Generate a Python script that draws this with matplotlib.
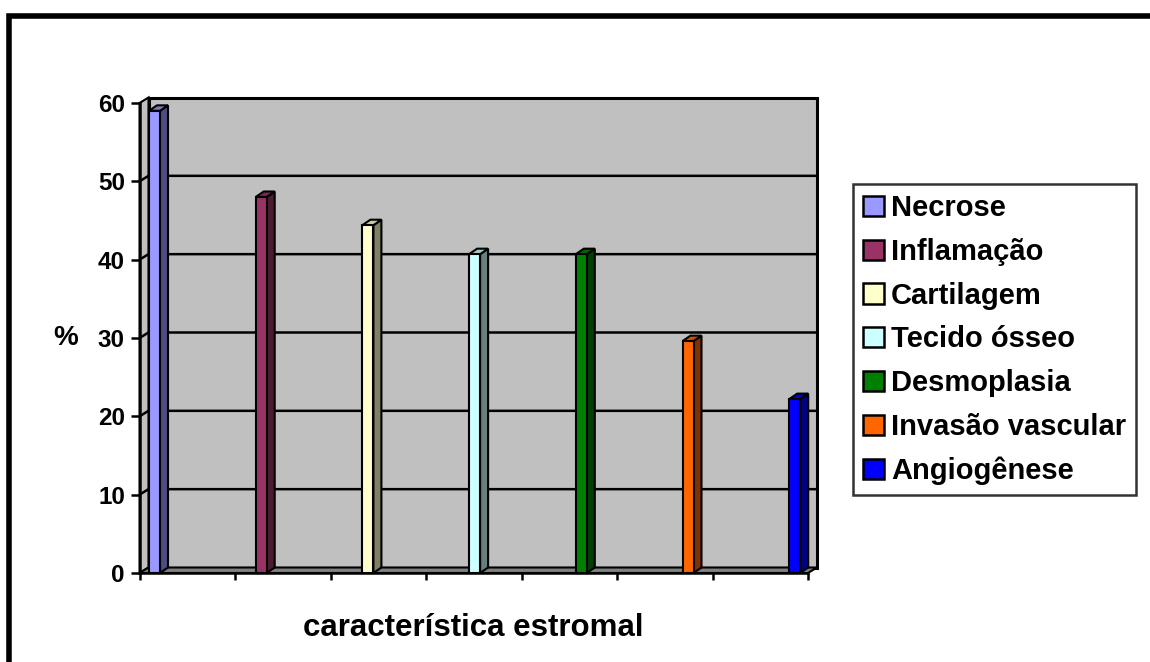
import numpy as np
import matplotlib.pyplot as plt
import matplotlib.colors as mcolors
from matplotlib.patches import Polygon, Rectangle, Patch

# === Dados ===
categories = ["Necrose", "Inflamação", "Cartilagem", "Tecido ósseo",
              "Desmoplasia", "Invasão vascular", "Angiogênese"]
values = [59.0, 48.0, 44.4, 40.7, 40.7, 29.6, 22.2]
colors = ["#9999FF", "#993366", "#FFFFCC", "#CCFFFF", "#008000", "#FF6600", "#0000FF"]
y_ticks = [0, 10, 20, 30, 40, 50, 60]
x_label = "característica estromal"
y_label = "%"

plt.rcParams["font.family"] = ["Liberation Sans", "DejaVu Sans"]
plt.rcParams["font.weight"] = "bold"

W, H = 1150, 662
fig = plt.figure(figsize=(W / 100, H / 100), dpi=100)
ax = fig.add_axes([139.5 / W, (H - 573) / H, 668.5 / W, 470 / H])

n_slots = 7
ymax = y_ticks[-1]
ax.set_xlim(0, n_slots)
ax.set_ylim(0, ymax)
ux = n_slots / 668.5   # unidades por pixel
uy = ymax / 470.0

# profundidade da parede (efeito 3D)
dx, dy = 9 * ux, 5.5 * uy
wall = "#C0C0C0"

def shade(c, f):
    r, g, b = mcolors.to_rgb(c)
    return (r * f, g * f, b * f)

# parede do fundo
ax.add_patch(Rectangle((dx, dy), n_slots, ymax, facecolor=wall, edgecolor="black",
                       lw=2.2, zorder=1, clip_on=False))
# parede lateral
ax.add_patch(Polygon([(0, 0), (dx, dy), (dx, ymax + dy), (0, ymax)], closed=True,
                     facecolor=wall, edgecolor="black", lw=1.5, zorder=1, clip_on=False))
# piso
ax.add_patch(Polygon([(0, 0), (n_slots, 0), (n_slots + dx, dy), (dx, dy)], closed=True,
                     facecolor="#808080", edgecolor="black", lw=1.5, zorder=2, clip_on=False))
# linhas de grade
for t in y_ticks[1:-1]:
    ax.plot([0, dx, n_slots + dx], [t, t + dy, t + dy], color="black", lw=1.8,
            zorder=1.5, clip_on=False, solid_capstyle="butt")

# === Barras 3D ===
x0, step = 9.5 * ux, 106.7 * ux
bw = 11 * ux
bdx, bdy = 8 * ux, 5.5 * uy
xs = x0 + step * np.arange(len(values))
ax.bar(xs, values, width=bw, align="edge", color=colors, edgecolor="black",
       lw=1.5, zorder=4, clip_on=False)
for x, v, c in zip(xs, values, colors):
    side = [(x + bw, 0), (x + bw + bdx, bdy), (x + bw + bdx, v + bdy), (x + bw, v)]
    top = [(x, v), (x + bw, v), (x + bw + bdx, v + bdy), (x + bdx, v + bdy)]
    ax.add_patch(Polygon(side, closed=True, facecolor=shade(c, 0.5), edgecolor="black",
                         lw=1.5, zorder=3.5, clip_on=False))
    ax.add_patch(Polygon(top, closed=True, facecolor=shade(c, 0.8), edgecolor="black",
                         lw=1.5, zorder=3.5, clip_on=False))

# === Eixos ===
for s in ["top", "right"]:
    ax.spines[s].set_visible(False)
ax.spines["left"].set_linewidth(1.8)
ax.spines["bottom"].set_linewidth(1.8)
ax.spines["left"].set_zorder(5)
ax.spines["bottom"].set_zorder(5)
ax.set_facecolor("none")
ax.set_yticks(y_ticks)
ax.set_yticklabels([str(t) for t in y_ticks], fontsize=17.5, fontweight="bold")
ax.set_xticks(np.arange(n_slots + 1))
ax.set_xticklabels([])
ax.tick_params(axis="y", length=6.5, width=1.8, pad=4)
ax.tick_params(axis="x", length=5, width=1.8)

fig.text(473 / W, 1 - 628 / H, x_label, ha="center", va="center",
         fontsize=22.5, fontweight="bold")
fig.text(66 / W, 1 - 338 / H, y_label, ha="center", va="center",
         fontsize=20, fontweight="bold")

# === Legenda ===
handles = [Patch(facecolor=c, edgecolor="black", lw=1.8) for c in colors]
leg = fig.legend(handles, categories, loc="upper left",
                 bbox_to_anchor=(853 / W, 1 - 184 / H), fontsize=21,
                 frameon=True, fancybox=False, edgecolor="black",
                 handlelength=0.7, handleheight=0.7, handletextpad=0.25,
                 labelspacing=0.54, borderpad=0.35, borderaxespad=0)
leg.get_frame().set_linewidth(1.8)
for t in leg.get_texts():
    t.set_fontweight("bold")

# moldura externa
fig.add_artist(Rectangle((9 / W, -0.1), 1.2, (646 / H) + 0.1, transform=fig.transFigure,
                         fill=False, edgecolor="black", lw=4))

fig.savefig("out.png", dpi=100)
